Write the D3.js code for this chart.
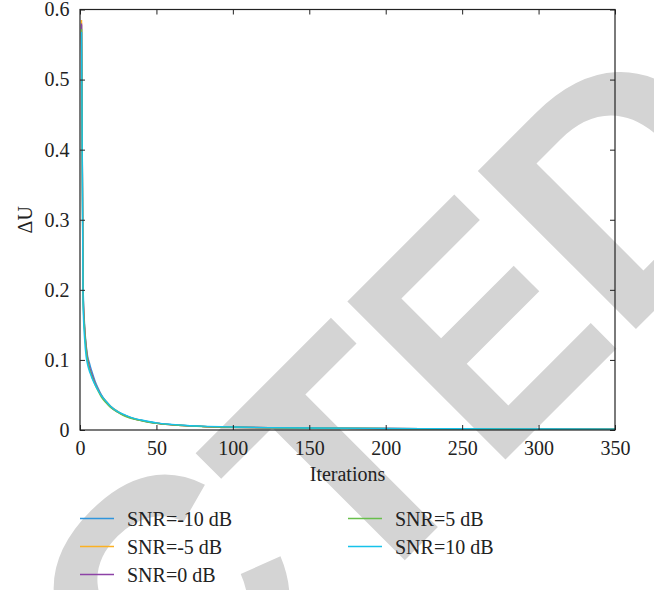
<!DOCTYPE html>
<html>
<head>
<meta charset="utf-8">
<title>ΔU vs Iterations</title>
<script src="https://cdn.jsdelivr.net/npm/d3@7"></script>
<style>
  body { margin: 0; background: #fff; }
  svg text.lbl { font-family: "Liberation Serif", "Times New Roman", serif; fill: #222; }
  svg text.mark { font-family: "Liberation Sans", Arial, sans-serif; font-weight: bold; fill: #d4d4d4; }
</style>
</head>
<body>
<svg width="654" height="590"></svg>
<script>

var iterations = [1, 2, 3, 4, 5, 6, 7, 8, 10, 12, 14, 17, 20, 25, 30, 36, 40, 50, 60, 70, 80, 100, 125, 150, 200, 250, 300, 350];

var snrM10 = [0.578, 0.21, 0.15, 0.122, 0.105, 0.097, 0.089, 0.082, 0.069, 0.059, 0.050, 0.041, 0.034, 0.026, 0.020, 0.0158, 0.0139, 0.0098, 0.0076, 0.0062, 0.0052, 0.0040, 0.0032, 0.0027, 0.0021, 0.0017, 0.0014, 0.0011];
var snrM5  = [0.585, 0.20, 0.145, 0.118, 0.100, 0.090, 0.083, 0.077, 0.066, 0.057, 0.049, 0.041, 0.034, 0.026, 0.020, 0.0157, 0.0138, 0.0097, 0.0075, 0.0061, 0.0051, 0.0040, 0.0032, 0.0027, 0.0021, 0.0017, 0.0014, 0.0011];
var snr0   = [0.580, 0.20, 0.146, 0.119, 0.101, 0.091, 0.084, 0.078, 0.066, 0.057, 0.049, 0.040, 0.033, 0.025, 0.020, 0.0155, 0.0136, 0.0096, 0.0075, 0.0061, 0.0051, 0.0040, 0.0032, 0.0027, 0.0021, 0.0017, 0.0014, 0.0011];
var snr5   = [0.572, 0.19, 0.142, 0.115, 0.098, 0.088, 0.081, 0.075, 0.064, 0.055, 0.047, 0.039, 0.032, 0.025, 0.019, 0.0152, 0.0134, 0.0095, 0.0074, 0.0060, 0.0050, 0.0039, 0.0031, 0.0026, 0.0020, 0.0016, 0.0013, 0.0010];
var snr10  = [0.568, 0.18, 0.130, 0.105, 0.093, 0.085, 0.079, 0.073, 0.064, 0.056, 0.049, 0.041, 0.034, 0.026, 0.021, 0.0162, 0.0143, 0.0102, 0.0080, 0.0065, 0.0055, 0.0043, 0.0034, 0.0028, 0.0022, 0.0018, 0.0015, 0.0012];

var seriesNames = ["SNR=-10 dB", "SNR=-5 dB", "SNR=0 dB", "SNR=5 dB", "SNR=10 dB"];
var seriesValues = [snrM10, snrM5, snr0, snr5, snr10];
var seriesColors = ["#2f95dc", "#fbb123", "#8d42a6", "#68bf4c", "#16c2ea"];

var xTicks = [0, 50, 100, 150, 200, 250, 300, 350];
var yTicks = [0, 0.1, 0.2, 0.3, 0.4, 0.5, 0.6];

var svg = d3.select("svg"),
    width = +svg.attr("width"),
    height = +svg.attr("height");

var margin = {top: 9.5, right: 39, bottom: 160, left: 80};
var w = width - margin.left - margin.right,
    h = height - margin.top - margin.bottom;

// "RETRACTED" stamp behind the chart, letters placed one by one
var mark = svg.append("g")
    .attr("transform", "translate(506.7,458.3) rotate(-45)");

mark.append("text").attr("class", "mark").attr("font-size", 325)
    .attr("text-anchor", "end").attr("x", -455).attr("y", -30).text("RETRA");
mark.append("text").attr("class", "mark").attr("font-size", 325)
    .attr("x", -455).attr("y", -30).text("C");
mark.append("text").attr("class", "mark").attr("font-size", 325)
    .attr("x", -220).text("T");
mark.append("text").attr("class", "mark").attr("font-size", 325)
    .attr("transform", "scale(0.86,1)").attr("x", -23.8).text("E");
mark.append("text").attr("class", "mark").attr("font-size", 325)
    .attr("x", 161).text("D");

var g = svg.append("g")
    .attr("transform", "translate(" + margin.left + "," + margin.top + ")");

var x = d3.scaleLinear().domain([0, 350]).range([0, w]);
var y = d3.scaleLinear().domain([0, 0.6]).range([h, 0]);

var line = d3.line()
    .x(function(d) { return x(d[0]); })
    .y(function(d) { return y(d[1]); })
    .curve(d3.curveMonotoneX);

seriesValues.forEach(function(vals, i) {
  g.append("path")
      .datum(iterations.map(function(it, j) { return [it, vals[j]]; }))
      .attr("fill", "none")
      .attr("stroke", seriesColors[i])
      .attr("stroke-width", 1.4)
      .attr("d", line);
});

// axes, ticks pointing inwards on all four sides
function styleAxis(sel) {
  sel.select(".domain").remove();
  sel.selectAll("line").attr("stroke", "#222");
  sel.selectAll("text").attr("class", "lbl").attr("font-size", 20);
}

g.append("g")
    .attr("transform", "translate(0," + h + ")")
    .call(d3.axisBottom(x).tickValues(xTicks).tickSize(-5).tickPadding(11))
    .call(styleAxis);

g.append("g")
    .call(d3.axisLeft(y).tickValues(yTicks).tickSize(-5).tickPadding(10.5)
      .tickFormat(function(d) { return d === 0 ? "0" : d3.format(".1f")(d); }))
    .call(styleAxis);

g.append("g")
    .call(d3.axisTop(x).tickValues(xTicks).tickSize(-5).tickFormat(""))
    .call(styleAxis);

g.append("g")
    .attr("transform", "translate(" + w + ",0)")
    .call(d3.axisRight(y).tickValues(yTicks).tickSize(-5).tickFormat(""))
    .call(styleAxis);

g.append("rect")
    .attr("width", w)
    .attr("height", h)
    .attr("fill", "none")
    .attr("stroke", "#222")
    .attr("stroke-width", 1.2);

// axis titles
g.append("text")
    .attr("class", "lbl")
    .attr("x", w / 2)
    .attr("y", h + 51)
    .attr("text-anchor", "middle")
    .attr("font-size", 20)
    .text("Iterations");

g.append("text")
    .attr("class", "lbl")
    .attr("transform", "translate(" + (32 - margin.left) + "," + (h / 2) + ") rotate(-90)")
    .attr("text-anchor", "middle")
    .attr("font-size", 20)
    .text("ΔU");

// legend, two columns
var legendX = [80, 348],
    legendY = [518.5, 546.5, 574.5];

var legend = svg.append("g")
  .selectAll("g")
  .data(seriesNames)
  .enter().append("g")
    .attr("transform", function(d, i) {
      var col = i < 3 ? 0 : 1, row = i < 3 ? i : i - 3;
      return "translate(" + legendX[col] + "," + legendY[row] + ")";
    });

legend.append("line")
    .attr("x1", 0)
    .attr("x2", 34)
    .attr("stroke", function(d, i) { return seriesColors[i]; })
    .attr("stroke-width", 1.6);

legend.append("text")
    .attr("class", "lbl")
    .attr("x", 47)
    .attr("y", 7)
    .attr("font-size", 20)
    .text(function(d) { return d; });

</script>
</body>
</html>
